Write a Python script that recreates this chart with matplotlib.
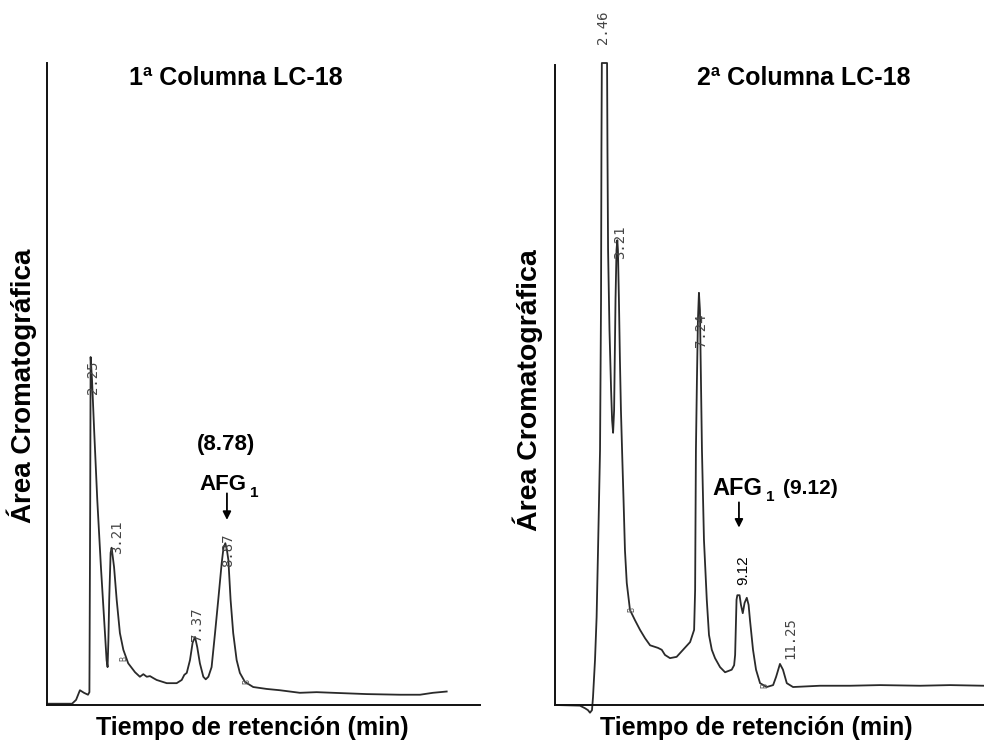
import matplotlib
matplotlib.use("Agg")
import matplotlib.pyplot as plt

# ---------------- data ----------------
# Panel 1: 1ª Columna LC-18  (time in min, detector signal in arbitrary units 0-100)
t1 = [0.00, 1.24, 1.44, 1.63, 1.83, 2.03, 2.10, 2.14, 2.16, 2.23, 2.34, 2.49, 2.67,
      2.87, 2.95, 3.00, 3.04, 3.08, 3.15, 3.20, 3.32, 3.45, 3.61, 3.78, 4.02, 4.36,
      4.60, 4.77, 4.94, 5.10, 5.26, 5.43, 5.93, 6.42, 6.67, 6.80, 6.92, 7.08, 7.21,
      7.33, 7.44, 7.57, 7.74, 7.86, 7.99, 8.15, 8.32, 8.48, 8.65, 8.74, 8.83, 8.91,
      8.98, 9.09, 9.22, 9.39, 9.55, 9.80, 10.21, 10.88, 11.53, 12.52, 13.35, 14.16,
      15.83, 17.48, 18.47, 19.11, 19.79]
s1 = [0.2, 0.2, 0.8, 2.3, 1.9, 1.6, 2.0, 31.9, 54.2, 50.6, 42.4, 31.9, 21.5,
      11.2, 7.0, 5.9, 10.1, 16.4, 23.7, 24.5, 21.5, 16.4, 11.2, 8.6, 6.5, 5.1,
      4.4, 4.8, 4.4, 4.5, 4.2, 3.9, 3.4, 3.4, 3.9, 4.7, 5.0, 7.0, 9.7,
      10.6, 9.0, 6.5, 4.4, 4.0, 4.4, 5.9, 11.2, 16.4, 22.1, 24.5, 25.2, 24.1,
      22.6, 16.4, 11.2, 7.0, 5.0, 3.6, 2.8, 2.5, 2.3, 1.9, 2.0, 1.9,
      1.7, 1.6, 1.6, 1.9, 2.1]

# Panel 2: 2ª Columna LC-18
t2 = [0.00, 1.24, 1.49, 1.64, 1.74, 1.84, 1.89, 1.99, 2.07, 2.14, 2.24, 2.29, 2.31,
      2.33, 2.59, 2.61, 2.64, 2.71, 2.79, 2.84, 2.89, 2.94, 3.01, 3.06, 3.10, 3.13,
      3.18, 3.23, 3.28, 3.35, 3.41, 3.48, 3.57, 3.73, 3.98, 4.23, 4.48, 4.73, 5.12,
      5.31, 5.47, 5.72, 6.05, 6.37, 6.72, 6.92, 6.97, 7.01, 7.06, 7.11, 7.16, 7.21,
      7.26, 7.31, 7.41, 7.55, 7.66, 7.80, 7.96, 8.21, 8.46, 8.79, 8.91, 8.96, 9.03,
      9.07, 9.18, 9.25, 9.34, 9.43, 9.54, 9.63, 9.70, 9.85, 10.00, 10.20, 10.53,
      10.85, 11.00, 11.19, 11.34, 11.53, 11.84, 13.18, 14.68, 16.17, 18.16, 19.65,
      21.34]
s2 = [0.0, -0.1, -0.5, -0.8, -1.2, -0.8, 1.2, 7.0, 13.7, 24.1, 39.7, 63.1, 86.4,
      100.0, 100.0, 86.4, 70.9, 58.4, 49.1, 44.4, 42.4, 45.9, 63.1, 70.9, 72.4, 70.9,
      63.1, 53.7, 45.9, 38.2, 31.9, 24.1, 19.0, 14.8, 13.2, 11.7, 10.4, 9.3, 8.9,
      8.6, 7.8, 7.3, 7.5, 8.6, 9.8, 11.7, 17.9, 39.7, 50.6, 60.0, 64.2, 61.5,
      50.6, 39.7, 25.7, 16.4, 10.9, 8.6, 7.3, 5.9, 5.1, 5.5, 6.2, 7.8, 16.4,
      17.1, 17.1, 15.6, 14.3, 15.9, 16.7, 15.6, 13.2, 8.6, 5.5, 3.4, 2.8,
      3.1, 4.4, 6.4, 5.5, 3.4, 2.8, 3.0, 3.0, 3.1, 3.0, 3.1,
      3.0]

# peak retention-time labels (text, t, s)
labels1 = ["2.25", "3.21", "7.37", "8.87"]
lab1_t = [2.28, 3.47, 7.43, 8.96]
lab1_s = [51.1, 26.2, 12.6, 24.1]
labels2 = ["2.46", "3.21", "7.24", "11.25"]
lab2_t = [2.39, 3.23, 7.26, 11.69]
lab2_s = [105.6, 72.1, 58.4, 10.4]
# baseline markers
mark1_t = [3.81, 9.90]
mark1_s = [7.3, 3.6]
mark2_t = [3.83, 10.45]
mark2_s = [14.8, 3.0]

titles = ["1ª Columna LC-18", "2ª Columna LC-18"]
xlabel = "Tiempo de retención (min)"
ylabel = "Área Cromatográfica"

# ---------------- figure ----------------
plt.rcParams['font.family'] = ['Liberation Sans', 'DejaVu Sans']
fig = plt.figure(figsize=(9.84, 7.47), dpi=100)
W, H = 984.0, 747.0

def fig_axes(x0, x1, ytop, ybot):
    return fig.add_axes([x0 / W, (H - ybot) / H, (x1 - x0) / W, (ybot - ytop) / H])

ax1 = fig_axes(47, 480, 63, 705)
ax2 = fig_axes(555, 984, 65, 705)

line_c = '#2a2a2a'
for ax, xmax, ymax in [(ax1, 21.44, 100.0), (ax2, 21.34, 99.69)]:
    ax.set_xlim(0, xmax)
    ax.set_ylim(0, ymax)
    ax.set_xticks([])
    ax.set_yticks([])
    for side in ['top', 'right']:
        ax.spines[side].set_visible(False)
    for side in ['left', 'bottom']:
        ax.spines[side].set_linewidth(1.4)
        ax.spines[side].set_color('#111111')
    ax.patch.set_alpha(0)

ax1.plot(t1, s1, color=line_c, lw=1.3, clip_on=False)
ax2.plot(t2, s2, color=line_c, lw=1.3, clip_on=False)

mono = ['DejaVu Sans Mono']
for txt, x, y in zip(labels1, lab1_t, lab1_s):
    ax1.text(x, y, txt, rotation=90, ha='center', va='center', fontsize=10,
             family=mono, color='#444444')
for txt, x, y in zip(labels2, lab2_t, lab2_s):
    ax2.text(x, y, txt, rotation=90, ha='center', va='center', fontsize=10,
             family=mono, color='#444444', clip_on=False)
ax2.text(9.38, 21.0, "9.12", rotation=90, ha='center', va='center', fontsize=11,
         color='black')
for x, y in zip(mark1_t, mark1_s):
    ax1.text(x, y, "B", rotation=90, ha='center', va='center', fontsize=6,
             family=mono, color='#555555')
for x, y in zip(mark2_t, mark2_s):
    ax2.text(x, y, "B", rotation=90, ha='center', va='center', fontsize=6,
             family=mono, color='#555555')

# titles
fig.text(236 / W, 1 - 78 / H, titles[0], ha='center', va='center', fontsize=18,
         fontweight='bold')
fig.text(804 / W, 1 - 78 / H, titles[1], ha='center', va='center', fontsize=18,
         fontweight='bold')
# axis labels
fig.text(252 / W, 1 - 728 / H, xlabel, ha='center', va='center', fontsize=18,
         fontweight='bold')
fig.text(756 / W, 1 - 728 / H, xlabel, ha='center', va='center', fontsize=18,
         fontweight='bold')
fig.text(22 / W, 1 - 386 / H, ylabel, ha='center', va='center', fontsize=20,
         fontweight='bold', rotation=90)
fig.text(528 / W, 1 - 390 / H, ylabel, ha='center', va='center', fontsize=20.5,
         fontweight='bold', rotation=90)

# AFG1 annotations
ax1.text(8.86, 40.5, "(8.78)", ha='center', va='center', fontsize=16, fontweight='bold')
ax1.text(8.71, 34.4, "AFG", ha='center', va='center', fontsize=16, fontweight='bold')
ax1.text(10.26, 33.0, "1", ha='center', va='center', fontsize=11, fontweight='bold')
ax1.annotate("", xy=(8.91, 28.4), xytext=(8.91, 33.4),
             arrowprops=dict(arrowstyle='-|>', lw=1.3, color='black', mutation_scale=12))

ax2.text(9.05, 33.8, "AFG", ha='center', va='center', fontsize=17, fontweight='bold')
ax2.text(10.70, 32.4, "1", ha='center', va='center', fontsize=11, fontweight='bold')
ax2.text(12.69, 33.8, "(9.12)", ha='center', va='center', fontsize=15, fontweight='bold')
ax2.annotate("", xy=(9.15, 27.2), xytext=(9.15, 32.0),
             arrowprops=dict(arrowstyle='-|>', lw=1.3, color='black', mutation_scale=12))

fig.savefig("out.png", dpi=100)
